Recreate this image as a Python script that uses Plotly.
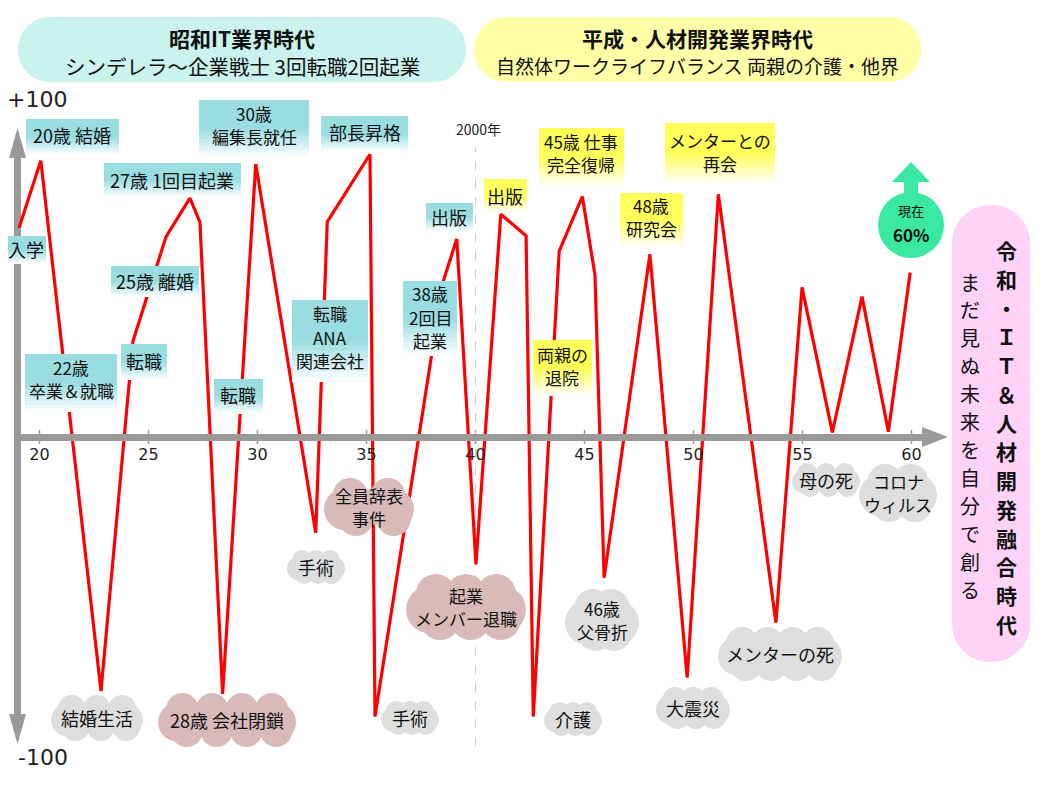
import plotly.graph_objects as go

# ---------------- data ----------------
ages = [19.06, 20.06, 22.82, 24.29, 25.80, 26.90, 27.36, 28.40, 29.92, 32.67,
        33.20, 35.16, 35.39, 38.51, 39.14, 40.02, 41.16, 42.32, 42.65, 43.84,
        44.90, 45.48, 45.90, 48.00, 49.71, 51.14, 53.78, 54.98, 56.37, 57.73,
        58.94, 59.94]
scores = [72.1, 95.3, -87.6, 33.1, 69.0, 82.4, 74.1, -88.6, 94.1, -33.0,
          74.2, 97.5, -96.4, 53.4, 68.3, -43.9, 76.8, 69.4, -96.4, 64.1,
          82.9, 55.9, -48.5, 63.0, -83.0, 83.7, -64.0, 51.6, 1.6, 48.4,
          1.8, 56.7]
x_ticks = [20, 25, 30, 35, 40, 45, 50, 55, 60]
x_tick_labels = ["20", "25", "30", "35", "40", "45", "50", "55", "60"]
year2000_age = 40

good_labels = ["20歳 結婚", "入学", "27歳 1回目起業", "25歳 離婚", "22歳<br>卒業＆就職",
               "転職", "転職", "30歳<br>編集長就任", "部長昇格", "出版",
               "転職<br>ANA<br>関連会社", "38歳<br>2回目<br>起業"]
good_labels2 = ["出版", "45歳 仕事<br>完全復帰", "48歳<br>研究会", "メンターとの<br>再会", "両親の<br>退院"]
bad_labels = ["結婚生活", "28歳 会社閉鎖", "手術", "全員辞表<br>事件", "手術", "起業<br>メンバー退職",
              "介護", "46歳<br>父骨折", "大震災", "メンターの死", "母の死", "コロナ<br>ウィルス"]
era1 = ("昭和IT業界時代", "シンデレラ～企業戦士 3回転職2回起業")
era2 = ("平成・人材開発業界時代", "自然体ワークライフバランス 両親の介護・他界")
era3 = ("令和・ＩＴ＆人材開発融合時代", "まだ見ぬ未来を自分で創る")
now_text = ("現在", "60%")

# ---------------- layout geometry (screen pixels) ----------------
W, H = 1040, 790
OFF = 8                      # page body margin
PX0, PX_PER = 39.5, 21.8     # screen x of age 20, pixels per year
Y0PX, PY_PER = 437.0, 2.9    # screen y of score 0, pixels per unit

def age_at(p):
    return 20 + (p - PX0) / PX_PER

def X(p):
    return (p - OFF) / W

def Y(p):
    return 1 - (p - OFF) / H

JP = "Noto Sans CJK JP"
shapes = []
annotations = []

def blend(c, w):
    return "rgb(%d,%d,%d)" % tuple(round(255 + (ci - 255) * w) for ci in c)

def grad_box(x0, y0, x1, y1, color, solid=0.5, n=16):
    for i in range(n):
        t0 = y0 + (y1 - y0) * i / n
        t1 = y0 + (y1 - y0) * (i + 1) / n + 0.6
        f = (i + 0.5) / n
        w = 1.0 if f < solid else max(0.0, 1 - (f - solid) / (1 - solid))
        shapes.append(dict(type="rect", xref="paper", yref="paper", x0=X(x0), x1=X(x1),
                           y0=Y(min(t1, y1)), y1=Y(t0), fillcolor=blend(color, w),
                           line=dict(width=0), layer="above"))

def circle(cx, cy, r, color, layer="above"):
    shapes.append(dict(type="circle", xref="paper", yref="paper", x0=X(cx - r), x1=X(cx + r),
                       y0=Y(cy + r), y1=Y(cy - r), fillcolor=color, line=dict(width=0), layer=layer))

def cloud(cx, cy, w, h, color):
    shapes.append(dict(type="rect", xref="paper", yref="paper",
                       x0=X(cx - w / 2 + h * 0.3), x1=X(cx + w / 2 - h * 0.3),
                       y0=Y(cy + h * 0.3), y1=Y(cy - h * 0.3), fillcolor=color,
                       line=dict(width=0), layer="above"))
    re = h * 0.36
    circle(cx - w / 2 + re, cy + h * 0.04, re, color)
    circle(cx + w / 2 - re, cy + h * 0.04, re, color)
    rb = h * 0.3
    inner = w - h * 0.9
    n = max(2, round(inner / (h * 0.5)) + 1)
    for i in range(n):
        bx = cx - inner / 2 + inner * i / (n - 1)
        circle(bx, cy - h / 2 + rb, rb, color)
        circle(bx + (inner / (n - 1)) * 0.15, cy + h / 2 - rb, rb, color)

K = 0.5523
def rrect(x0, y0, x1, y1, r, color, layer="below"):
    k = K * r
    d = (f"M{X(x0 + r)},{Y(y0)} L{X(x1 - r)},{Y(y0)} "
         f"C{X(x1 - r + k)},{Y(y0)} {X(x1)},{Y(y0 + r - k)} {X(x1)},{Y(y0 + r)} "
         f"L{X(x1)},{Y(y1 - r)} "
         f"C{X(x1)},{Y(y1 - r + k)} {X(x1 - r + k)},{Y(y1)} {X(x1 - r)},{Y(y1)} "
         f"L{X(x0 + r)},{Y(y1)} "
         f"C{X(x0 + r - k)},{Y(y1)} {X(x0)},{Y(y1 - r + k)} {X(x0)},{Y(y1 - r)} "
         f"L{X(x0)},{Y(y0 + r)} "
         f"C{X(x0)},{Y(y0 + r - k)} {X(x0 + r - k)},{Y(y0)} {X(x0 + r)},{Y(y0)} Z")
    shapes.append(dict(type="path", xref="paper", yref="paper", path=d, fillcolor=color,
                       line=dict(width=0), layer=layer))

def poly(pts, color, layer="above"):
    d = "M" + " L".join(f"{X(a)},{Y(b)}" for a, b in pts) + " Z"
    shapes.append(dict(type="path", xref="paper", yref="paper", path=d, fillcolor=color,
                       line=dict(width=0), layer=layer))

def text(x, y, s, size=17, bold=False, color="#111", family=JP):
    if bold:
        s = "<b>" + s + "</b>"
    annotations.append(dict(xref="paper", yref="paper", x=X(x), y=Y(y), text=s,
                            showarrow=False, xanchor="center", yanchor="middle",
                            align="center", font=dict(family=family, size=size, color=color)))

def text_lines(x, y, s, size=18, pitch=23.5):
    lines = s.split("<br>")
    n = len(lines)
    sz = size if n == 1 else size - 1
    for i, ln in enumerate(lines):
        text(x, y + (i - (n - 1) / 2) * pitch, ln, size=sz)

TEAL = (153, 221, 225)
YEL = (255, 255, 90)
GREY = "#dedede"
PINK = "#d8baba"
AX = "#9a9a9a"

# ---------------- axes decorations ----------------
shapes.append(dict(type="line", xref="paper", yref="paper", x0=X(17.5), x1=X(17.5),
                   y0=Y(150), y1=Y(720), line=dict(color=AX, width=7), layer="below"))
poly([(17.5, 128), (9, 158), (26, 158)], AX, "below")
poly([(17.5, 744), (9, 714), (26, 714)], AX, "below")
poly([(948, 437), (922, 427), (922, 447)], AX, "below")
for t in x_ticks:
    shapes.append(dict(type="line", xref="x", yref="paper", x0=t, x1=t, y0=Y(444), y1=Y(430),
                       line=dict(color=AX, width=1.5), layer="below"))
shapes.append(dict(type="line", xref="x", yref="paper", x0=year2000_age, x1=year2000_age,
                   y0=Y(746), y1=Y(148), line=dict(color="#cccccc", width=1, dash="dash"),
                   layer="below"))
text(478, 129, "2000年", size=14, color="#222")
text(37, 100, "+100", size=22, color="#222", family="DejaVu Sans")
text(43, 757, "-100", size=22, color="#222", family="DejaVu Sans")

# ---------------- era banners ----------------
rrect(18, 17, 466, 82, 32, "#c9f3ec")
text(242, 38, era1[0], size=21, bold=True)
text(242, 66, era1[1], size=20.5)
rrect(474, 17, 921, 82, 32, "#ffffa8")
text(697, 38, era2[0], size=21, bold=True)
text(697, 66, era2[1], size=19)
rrect(952, 205, 1030, 662, 38, "#ffd3f8")
c1 = era3[0]
for i, ch in enumerate(c1):
    text(1006, 250 + i * (624 - 250) / (len(c1) - 1), ch, size=21, bold=True)
c2 = era3[1]
for i, ch in enumerate(c2):
    text(970, 282 + i * (589 - 282) / (len(c2) - 1), ch, size=20)

# ---------------- now marker ----------------
circle(911, 225, 33, "#3ae8a2", "below")
poly([(911, 162), (892, 182), (930, 182)], "#3ae8a2", "below")
shapes.append(dict(type="rect", xref="paper", yref="paper", x0=X(904), x1=X(918),
                   y0=Y(200), y1=Y(181), fillcolor="#3ae8a2", line=dict(width=0), layer="below"))
text(911, 210, now_text[0], size=13)
text(911, 235, now_text[1], size=17, bold=True)

# ---------------- label boxes ----------------
good_boxes = [(26, 119, 119, 155), (7, 236, 46, 264), (104, 163, 241, 197), (111, 266, 199, 297),
              (25, 354, 117, 412), (121, 344, 167, 380), (214, 379, 263, 414), (199, 100, 309, 157),
              (321, 116, 408, 152), (426, 203, 473, 231), (292, 300, 368, 382), (403, 281, 457, 356)]
good_text = [(72, 135), (26, 249), (172, 180), (155, 281), (71, 379), (144, 361), (238, 395),
             (254, 125), (365, 132), (449, 217), (330, 337), (430, 317)]
for s, b, tp in zip(good_labels, good_boxes, good_text):
    grad_box(*b, TEAL)
    text_lines(tp[0], tp[1], s)

good_boxes2 = [(484, 179, 527, 212), (539, 128, 624, 187), (620, 193, 683, 247),
               (665, 123, 775, 184), (533, 340, 592, 396)]
good_text2 = [(505, 196), (581, 153), (651, 217), (720, 152), (562, 366)]
for s, b, tp in zip(good_labels2, good_boxes2, good_text2):
    grad_box(*b, YEL)
    text_lines(tp[0], tp[1], s)

clouds = [(97, 718, 92, 46, GREY), (227, 720, 138, 54, PINK), (316, 567, 58, 34, GREY),
          (369, 507, 90, 58, PINK), (410, 718, 58, 34, GREY), (466, 607, 120, 66, PINK),
          (573, 719, 58, 34, GREY), (602, 620, 74, 62, GREY), (693, 708, 74, 42, GREY),
          (780, 654, 124, 54, GREY), (826, 480, 68, 34, GREY), (898, 493, 78, 58, GREY)]
for s, c in zip(bad_labels, clouds):
    cloud(*c)
    text_lines(c[0], c[1], s)

# ---------------- figure ----------------
fig = go.Figure()
fig.add_trace(go.Scatter(x=ages, y=scores, mode="lines",
                         line=dict(color="#ff0000", width=3.2), hoverinfo="skip"))

fig.update_layout(
    width=W, height=H, margin=dict(l=0, r=0, t=0, b=0),
    paper_bgcolor="white", plot_bgcolor="white", showlegend=False,
    xaxis=dict(domain=[X(17), X(922)], range=[age_at(17), age_at(922)],
               anchor="free", position=Y(Y0PX), showline=True, linecolor=AX, linewidth=7,
               showgrid=False, zeroline=False, ticks="", tickvals=x_ticks,
               ticktext=x_tick_labels, tickfont=dict(family="DejaVu Sans", size=16, color="#222"),
               fixedrange=True),
    yaxis=dict(domain=[0, 1],
               range=[(Y0PX - (H + OFF)) / PY_PER, (Y0PX - OFF) / PY_PER],
               visible=False, fixedrange=True),
    shapes=shapes, annotations=annotations,
)

fig.write_html("out.html")
